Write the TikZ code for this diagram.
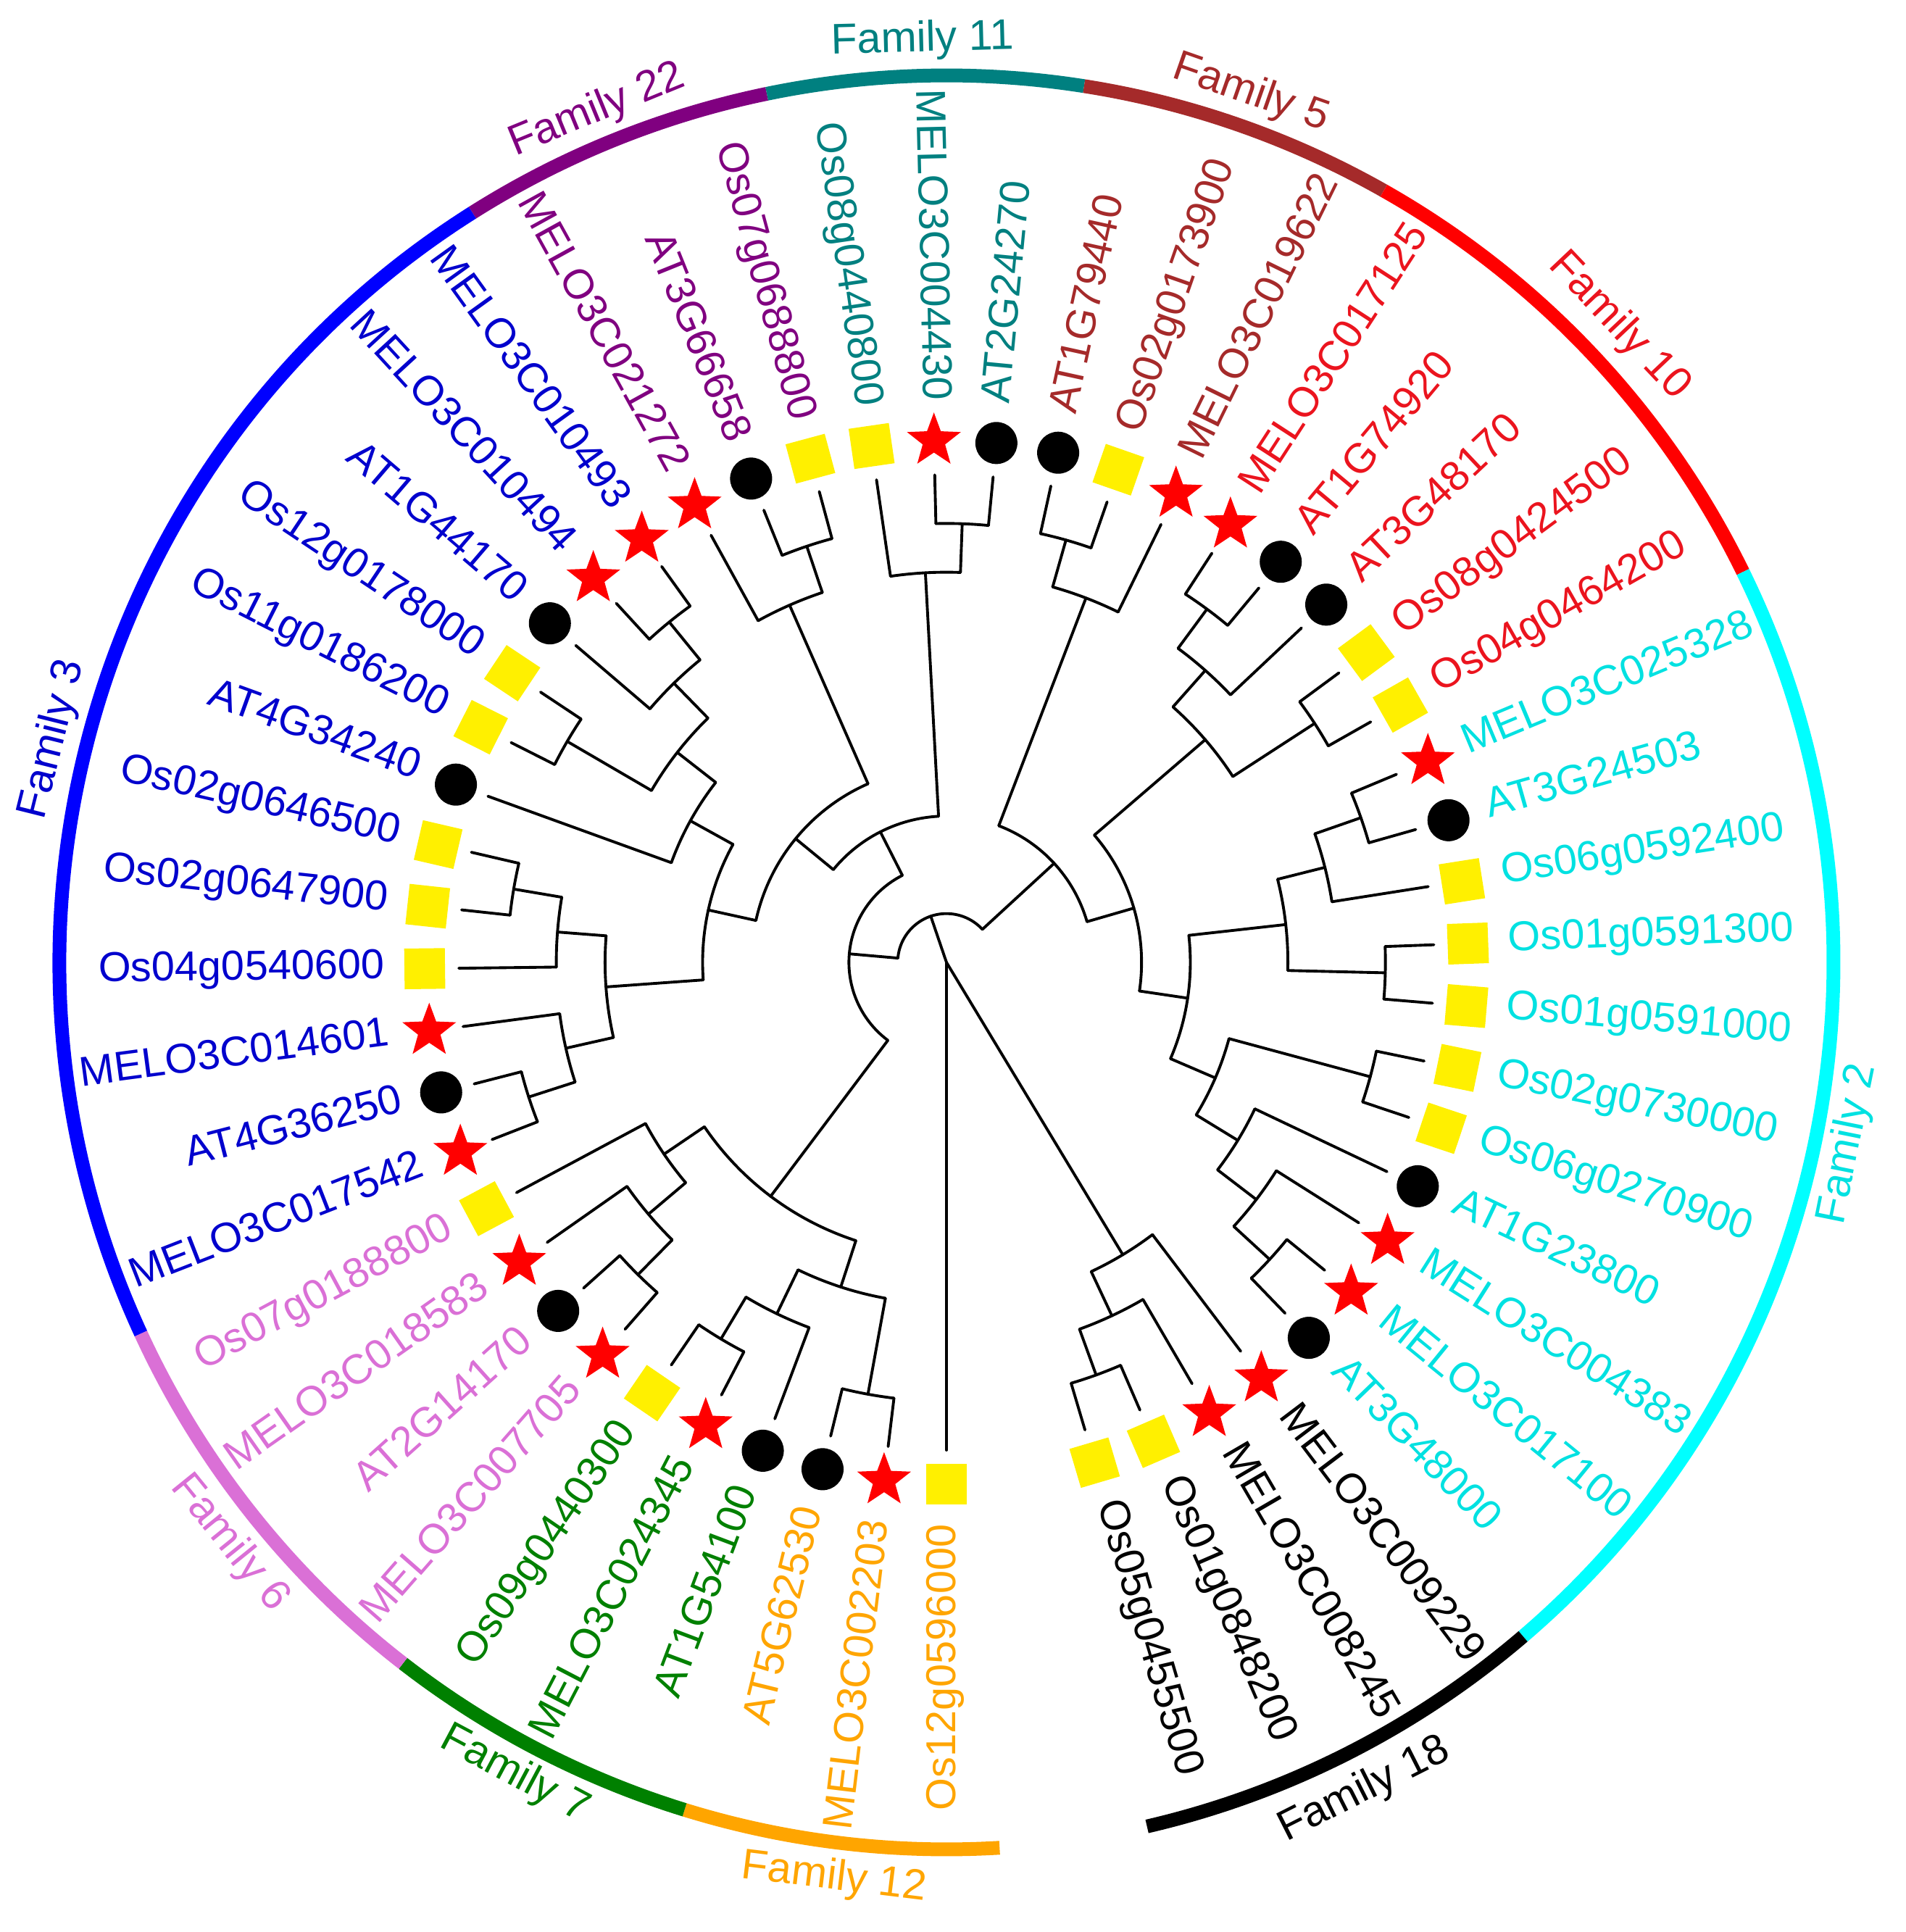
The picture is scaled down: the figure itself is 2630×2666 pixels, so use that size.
\documentclass[tikz,border=0pt]{standalone}
\usepackage{fontspec}
\setmainfont{Liberation Sans}
\usetikzlibrary{shapes.geometric}
\definecolor{cOr}{RGB}{255,165,0}
\definecolor{cGr}{RGB}{0,128,0}
\definecolor{cOc}{RGB}{218,112,214}
\definecolor{cBl}{RGB}{0,0,255}
\definecolor{cBlT}{RGB}{0,0,205}
\definecolor{cPu}{RGB}{128,0,128}
\definecolor{cTe}{RGB}{0,128,128}
\definecolor{cBr}{RGB}{165,42,42}
\definecolor{cRe}{RGB}{255,0,0}
\definecolor{cReT}{RGB}{235,20,30}
\definecolor{cCy}{RGB}{0,255,255}
\definecolor{cCyT}{RGB}{0,225,225}
\definecolor{cSq}{RGB}{255,240,0}
\newcommand\trAng[1]{270-6.87*(#1)}
\newcommand\trLev[1]{67.3*(#1)}
\newcommand\trRad[3]{\draw[tree] ({\trAng{#1}}:{\trLev{#2}}) -- ({\trAng{#1}}:{\trLev{#3}});}
\newcommand\trArc[3]{\draw[tree] ({\trAng{#1}}:{\trLev{#3}}) arc[start angle={\trAng{#1}}, end angle={\trAng{#2}}, radius={\trLev{#3}}];}
\newcommand\trPair[2]{\trArc{#1}{#2}{9}\trRad{#1}{9}{10}\trRad{#2}{9}{10}}
\newcommand\trMark[2]{\node[#2={\trAng{#1}}] (m#1) at ({\trAng{#1}}:720) {};}
\newcommand\lfL[4]{\trMark{#1}{#2}\node[lab, text=#3, anchor=east, rotate={\trAng{#1}-180}] (L#1) at ({\trAng{#1}}:775) {#4};}
\newcommand\lfR[4]{\trMark{#1}{#2}\node[lab, text=#3, anchor=west, rotate={\trAng{#1}}] (L#1) at ({\trAng{#1}}:775) {#4};}
\newcommand\famArc[4]{\draw[famarc, #4] ({\trAng{#1}}:1224) arc[start angle={\trAng{#1}}, end angle={\trAng{#2}}, radius=1224];}
\begin{document}
\begin{tikzpicture}[x=0.01cm,y=0.01cm,
  tree/.style={line width=1.1pt, black, line cap=round},
  lab/.style={font=\fontsize{16.4}{18}\selectfont, inner sep=0pt, text height=0.716em, text depth=0pt},
  famlab/.style={font=\fontsize{16.8}{18}\selectfont, inner sep=0pt, text height=0.716em, text depth=0pt, anchor=center},
  atm/.style={circle, fill=black, inner sep=0pt, minimum size=0.58cm},
  osm/.style={rectangle, fill=cSq, inner sep=0pt, minimum size=0.56cm, rotate=#1},
  mem/.style={star, star points=5, star point ratio=2.4, fill=red, inner sep=0pt, minimum size=0.78cm},
  famarc/.style={line width=5.4pt}]
\path[use as bounding box] (-1306,-1338) rectangle (1324,1328);
% ---------- tree ----------
% root
\trRad{23.466}{0}{1}
\trRad{0}{0}{10}
\trRad{47.875}{0}{7}
% A
\trArc{13.832}{33.1}{1}
\trRad{13.832}{1}{2}
\trRad{33.1}{1}{3}
% N
\trArc{5.375}{22.289}{2}
\trRad{5.375}{2}{6}
\trRad{22.289}{2}{3}
% Q
\trArc{2.625}{8.125}{6}
\trRad{8.125}{6}{7}
\trRad{2.625}{6}{7}
% R
\trArc{7.25}{9}{7}
\trRad{7.25}{7}{8}
\trRad{9}{7}{10}
% S
\trArc{6.5}{8}{8}
\trRad{6.5}{8}{9}
\trRad{8}{8}{10}
\trPair{6}{7}
% U
\trArc{1.5}{3.75}{7}
\trRad{3.75}{7}{8}
\trRad{1.5}{7}{9}
% W
\trArc{3}{4.5}{8}
\trRad{4.5}{8}{9}
\trRad{3}{8}{10}
\trPair{4}{5}
\trPair{1}{2}
% O
\trArc{18.828}{25.75}{3}
\trRad{18.828}{3}{4}
\trRad{25.75}{3}{8}
% P
\trArc{14.906}{22.75}{4}
\trRad{14.906}{4}{5}
\trRad{22.75}{4}{8}
% Y
\trArc{12.5}{17.3125}{5}
\trRad{12.5}{5}{7}
\trRad{17.3125}{5}{6}
% Z
\trArc{11.25}{13.75}{7}
\trRad{11.25}{7}{8}
\trRad{13.75}{7}{8}
\trArc{10.5}{12}{8}
\trRad{10.5}{8}{9}
\trRad{12}{8}{10}
\trPair{10}{11}
\trArc{13}{14.5}{8}
\trRad{13}{8}{10}
\trRad{14.5}{8}{9}
\trPair{14}{15}
% AA
\trArc{16}{18.625}{6}
\trRad{16}{6}{10}
\trRad{18.625}{6}{7}
% GG
\trArc{17.5}{19.75}{7}
\trRad{17.5}{7}{9}
\trRad{19.75}{7}{8}
\trPair{17}{18}
\trArc{19}{20.5}{8}
\trRad{19}{8}{10}
\trRad{20.5}{8}{9}
\trPair{20}{21}
% HH
\trArc{22}{23.5}{8}
\trRad{22}{8}{10}
\trRad{23.5}{8}{9}
\trPair{23}{24}
% FF
\trArc{25}{26.5}{8}
\trRad{25}{8}{10}
\trRad{26.5}{8}{9}
\trPair{26}{27}
% B
\trArc{29.25}{36.95}{3}
\trRad{29.25}{3}{8}
\trRad{36.95}{3}{4}
% G
\trArc{28.5}{30}{8}
\trRad{28.5}{8}{9}
\trRad{30}{8}{10}
\trPair{28}{29}
% C
\trArc{33.375}{40.53}{4}
\trRad{33.375}{4}{7}
\trRad{40.53}{4}{5}
% I
\trArc{32.25}{34.5}{7}
\trRad{32.25}{7}{8}
\trRad{34.5}{7}{9}
\trArc{31.5}{33}{8}
\trRad{31.5}{8}{9}
\trRad{33}{8}{10}
\trPair{31}{32}
\trPair{34}{35}
% M
\trArc{38.375}{42.6875}{5}
\trRad{38.375}{5}{7}
\trRad{42.6875}{5}{6}
% BB
\trArc{37.25}{39.5}{7}
\trRad{37.25}{7}{8}
\trRad{39.5}{7}{9}
\trArc{36.5}{38}{8}
\trRad{36.5}{8}{9}
\trRad{38}{8}{10}
\trPair{36}{37}
\trPair{39}{40}
% CC
\trArc{41.5}{43.875}{6}
\trRad{41.5}{6}{9}
\trRad{43.875}{6}{7}
\trPair{41}{42}
% DD
\trArc{43}{44.75}{7}
\trRad{43}{7}{10}
\trRad{44.75}{7}{8}
% EE
\trArc{44}{45.5}{8}
\trRad{44}{8}{10}
\trRad{45.5}{8}{9}
\trPair{45}{46}
% D
\trArc{47}{48.75}{7}
\trRad{47}{7}{10}
\trRad{48.75}{7}{8}
\trArc{48}{49.5}{8}
\trRad{48}{8}{10}
\trRad{49.5}{8}{9}
\trPair{49}{50}
% ---------- leaves ----------
\lfL{0}{osm}{cOr}{Os12g0596000}
\lfL{1}{mem}{cOr}{MELO3C002203}
\lfL{2}{atm}{cOr}{AT5G62530}
\lfL{3}{atm}{cGr}{AT1G54100}
\lfL{4}{mem}{cGr}{MELO3C024345}
\lfL{5}{osm}{cGr}{Os09g0440300}
\lfL{6}{mem}{cOc}{MELO3C007705}
\lfL{7}{atm}{cOc}{AT2G14170}
\lfL{8}{mem}{cOc}{MELO3C018583}
\lfL{9}{osm}{cOc}{Os07g0188800}
\lfL{10}{mem}{cBlT}{MELO3C017542}
\lfL{11}{atm}{cBlT}{AT4G36250}
\lfL{12}{mem}{cBlT}{MELO3C014601}
\lfL{13}{osm}{cBlT}{Os04g0540600}
\lfL{14}{osm}{cBlT}{Os02g0647900}
\lfL{15}{osm}{cBlT}{Os02g0646500}
\lfL{16}{atm}{cBlT}{AT4G34240}
\lfL{17}{osm}{cBlT}{Os11g0186200}
\lfL{18}{osm}{cBlT}{Os12g0178000}
\lfL{19}{atm}{cBlT}{AT1G44170}
\lfL{20}{mem}{cBlT}{MELO3C010494}
\lfL{21}{mem}{cBlT}{MELO3C010493}
\lfL{22}{mem}{cPu}{MELO3C021272}
\lfL{23}{atm}{cPu}{AT3G66658}
\lfL{24}{osm}{cPu}{Os07g0688800}
\lfL{25}{osm}{cTe}{Os08g0440800}
\lfL{26}{mem}{cTe}{MELO3C004430}
\lfR{27}{atm}{cTe}{AT2G24270}
\lfR{28}{atm}{cBr}{AT1G79440}
\lfR{29}{osm}{cBr}{Os02g0173900}
\lfR{30}{mem}{cBr}{MELO3C019622}
\lfR{31}{mem}{cReT}{MELO3C017125}
\lfR{32}{atm}{cReT}{AT1G74920}
\lfR{33}{atm}{cReT}{AT3G48170}
\lfR{34}{osm}{cReT}{Os08g0424500}
\lfR{35}{osm}{cReT}{Os04g0464200}
\lfR{36}{mem}{cCyT}{MELO3C025328}
\lfR{37}{atm}{cCyT}{AT3G24503}
\lfR{38}{osm}{cCyT}{Os06g0592400}
\lfR{39}{osm}{cCyT}{Os01g0591300}
\lfR{40}{osm}{cCyT}{Os01g0591000}
\lfR{41}{osm}{cCyT}{Os02g0730000}
\lfR{42}{osm}{cCyT}{Os06g0270900}
\lfR{43}{atm}{cCyT}{AT1G23800}
\lfR{44}{mem}{cCyT}{MELO3C004383}
\lfR{45}{mem}{cCyT}{MELO3C017100}
\lfR{46}{atm}{cCyT}{AT3G48000}
\lfR{47}{mem}{black}{MELO3C009229}
\lfR{48}{mem}{black}{MELO3C008245}
\lfR{49}{osm}{black}{Os01g0848200}
\lfR{50}{osm}{black}{Os05g0455500}
% ---------- family arcs ----------
\famArc{-0.5}{2.5}{}{cOr}
\famArc{2.5}{5.5}{}{cGr}
\famArc{5.5}{9.5}{}{cOc}
\famArc{9.5}{21.5}{}{cBl}
\famArc{21.5}{24.5}{}{cPu}
\famArc{24.5}{27.5}{}{cTe}
\famArc{27.5}{30.5}{}{cBr}
\famArc{30.5}{35.5}{}{cRe}
\famArc{35.5}{46.5}{}{cCy}
\famArc{46.5}{50.5}{}{black}
% ---------- family labels ----------
\node[famlab, text=cOr, rotate=353] (F12) at (263:1276) {Family 12};
\node[famlab, text=cGr, rotate=332] (F7) at (242:1272) {Family 7};
\node[famlab, text=cOc, rotate=309] (F6) at (219:1276) {Family 6};
\node[famlab, text=cBlT, rotate=76] (F3) at (166:1268) {Family 3};
\node[famlab, text=cPu, rotate=22.3] (F22) at (112.3:1268) {Family 22};
\node[famlab, text=cTe, rotate=1.5] (F11) at (91.5:1270) {Family 11};
\node[famlab, text=cBr, rotate=-19.3] (F5) at (70.7:1268) {Family 5};
\node[famlab, text=cReT, rotate=-46.6] (F10) at (43.4:1275) {Family 10};
\node[famlab, text=cCyT, rotate=78.6] (F2) at (-11.4:1272) {Family 2};
\node[famlab, text=black, rotate=26.8] (F18) at (-63.2:1282) {Family 18};
\end{tikzpicture}
\end{document}
